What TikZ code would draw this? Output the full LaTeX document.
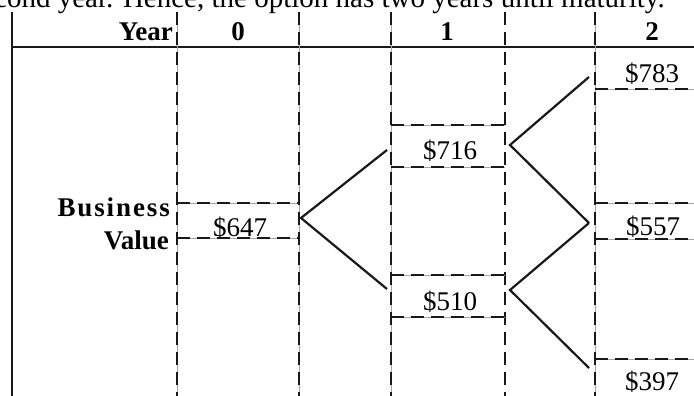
\documentclass[tikz,border=0pt]{standalone}
\usepackage{fontspec}
\setmainfont{Liberation Serif}
\newfontfamily\spacedfont[LetterSpace=7]{Liberation Serif}
\begin{document}
\begin{tikzpicture}[x=1pt,y=-1pt,
  txt/.style={font=\fontsize{27}{30}\selectfont, inner sep=0pt, anchor=base},
  hdr/.style={txt, font=\fontsize{27}{30}\selectfont\bfseries},
  solidline/.style={line width=2.2pt, black!90},
  thinline/.style={line width=0.6pt, black!35},
  dashline/.style={line width=2.7pt, black!90, dash pattern=on 13pt off 7pt},
  dashthin/.style={line width=1.8pt, black!90, dash pattern=on 13pt off 7pt},
  branch/.style={line width=2.2pt, black!90}]
\useasboundingbox (0,0) rectangle (694,396);
\clip (0,0) rectangle (694,396);

% clipped running text above the table
\node[txt, anchor=base west, font=\fontsize{29}{32}\selectfont] (para) at (-6,8) {cond year. Hence, the option has two years until maturity.};

% grid
\coordinate (lt) at (12,12);
\coordinate (lb) at (12,396);
\draw[solidline] (lt) -- (lb);
\coordinate (hl) at (12,47);
\coordinate (hr) at (694,47);
\draw[solidline] (hl) -- (hr);

\foreach \x/\n in {177/a,299/b,391/c,595/e}{
  \coordinate (\n t) at (\x,12);
  \coordinate (\n b) at (\x,396);
  \draw[thinline] (\n t) -- (\n b);
}
\draw[dashthin] (at) -- (ab);
\draw[dashthin] (bt) -- (bb);
\draw[dashthin] (ct) -- (cb);
\coordinate (dt) at (505,12);
\coordinate (db) at (505,396);
\draw[dashline] (dt) -- (db);
\draw[dashline] (et) -- (eb);

% header
\node[hdr, anchor=base east] (year) at (173,41) {Year};
\node[hdr] (y0) at (238,41) {0};
\node[hdr] (y1) at (447,41) {1};
\node[hdr] (y2) at (652,41) {2};

% row label
\node[txt, anchor=base east, font=\fontsize{27}{30}\selectfont\spacedfont\bfseries] (bus) at (170,216) {Business};
\node[txt, anchor=base east, font=\fontsize{27}{30}\selectfont\bfseries] (val) at (169,249) {Value};

% value boxes (dashed horizontal edges)
\foreach \y in {203,238}{
  \coordinate (l\y) at (177,\y); \coordinate (r\y) at (299,\y);
  \draw[thinline] (l\y) -- (r\y); \draw[dashline] (l\y) -- (r\y);
}
\foreach \y in {125,167,275,317}{
  \coordinate (l\y) at (391,\y); \coordinate (r\y) at (505,\y);
  \draw[thinline] (l\y) -- (r\y); \draw[dashline] (l\y) -- (r\y);
}
\foreach \y in {89,203,239,359}{
  \coordinate (l\y) at (595,\y); \coordinate (r\y) at (694,\y);
  \draw[thinline] (l\y) -- (r\y); \draw[dashline] (l\y) -- (r\y);
}

% values
\node[txt] (v0) at (240,236) {\$647};
\node[txt] (v1u) at (450,159) {\$716};
\node[txt] (v1d) at (450,310) {\$510};
\node[txt] (v2u) at (652,82) {\$783};
\node[txt] (v2m) at (653,235) {\$557};
\node[txt] (v2d) at (652,390) {\$397};

% branches
\coordinate (s0) at (301,218);
\coordinate (e1u) at (387,150);
\coordinate (e1d) at (387,289);
\coordinate (s1u) at (510,145);
\coordinate (s1d) at (510,290);
\coordinate (e2u) at (589,77);
\coordinate (e2m) at (589,223);
\coordinate (e2d) at (589,368);
\draw[branch] (e1u) -- (s0) -- (e1d);
\draw[branch] (e2u) -- (s1u) -- (e2m);
\draw[branch] (e2m) -- (s1d) -- (e2d);
\end{tikzpicture}
\end{document}
